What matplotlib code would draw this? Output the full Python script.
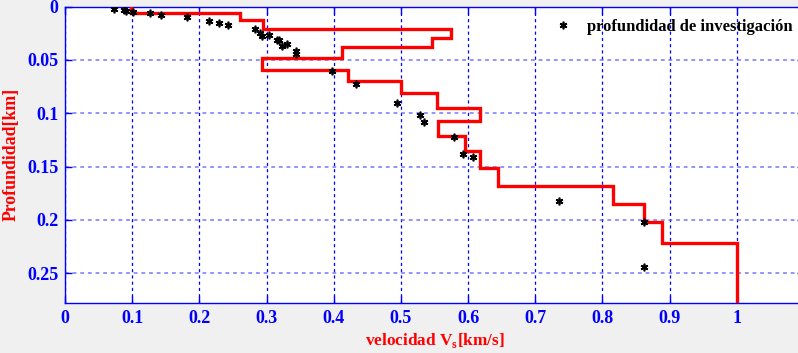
import numpy as np
import matplotlib
matplotlib.use('Agg')
import matplotlib.pyplot as plt

# velocity profile (layers): top depth of each layer [km] and Vs [km/s]
layer_top = [0.0, 0.006, 0.0126, 0.021, 0.0294, 0.0379, 0.0482, 0.0594, 0.0697,
             0.0814, 0.095, 0.1077, 0.1217, 0.1358, 0.1513, 0.1681, 0.185, 0.2019, 0.2216]
layer_bottom = 0.278
layer_vs = [0.098, 0.261, 0.295, 0.575, 0.546, 0.412, 0.293, 0.421, 0.500,
            0.554, 0.618, 0.555, 0.596, 0.618, 0.645, 0.816, 0.862, 0.889, 1.0]

# investigation depth points
pt_vs = [0.0733, 0.0877, 0.0914, 0.1007, 0.1264, 0.1423, 0.182, 0.2147, 0.2296, 0.243,
         0.2828, 0.2902, 0.2936, 0.3036, 0.3155, 0.3192, 0.3225, 0.33, 0.3434, 0.3434,
         0.3979, 0.4331, 0.4949, 0.5284, 0.5348, 0.5791, 0.592, 0.6069, 0.7359, 0.8619, 0.8619]
pt_depth = [0.0023, 0.0032, 0.0041, 0.0053, 0.0057, 0.0076, 0.0097, 0.0132, 0.0151, 0.0172,
            0.0213, 0.025, 0.0274, 0.0271, 0.0313, 0.0313, 0.0372, 0.0353, 0.0416, 0.0444,
            0.0601, 0.0728, 0.0903, 0.1016, 0.1079, 0.1222, 0.1384, 0.141, 0.1819, 0.2016, 0.2447]

xticks = [0, 0.1, 0.2, 0.3, 0.4, 0.5, 0.6, 0.7, 0.8, 0.9, 1]
xtick_labels = ['0', '0.1', '0.2', '0.3', '0.4', '0.5', '0.6', '0.7', '0.8', '0.9', '1']
yticks = [0, 0.05, 0.1, 0.15, 0.2, 0.25]
ytick_labels = ['0', '0.05', '0.1', '0.15', '0.2', '0.25']

plt.rcParams['font.family'] = ['Liberation Serif', 'DejaVu Serif']
plt.rcParams['font.weight'] = 'bold'
plt.rcParams['mathtext.fontset'] = 'custom'
plt.rcParams['mathtext.rm'] = 'Liberation Serif:bold'

W, H = 798, 353
fig = plt.figure(figsize=(W / 100, H / 100), dpi=100, facecolor='#f0f0f0')
ax = fig.add_axes([65.1 / W, (H - 303) / H, 738.8 / W, (303 - 6.6) / H])
ax.set_facecolor('white')

# build stair path
edges = np.array(layer_top + [layer_bottom])
vs = np.array(layer_vs)
xs = np.repeat(vs, 2)
ys = np.column_stack([edges[:-1], edges[1:]]).ravel()
ax.plot(xs, ys, color='#ff0000', lw=2.4, solid_joinstyle='miter', zorder=3)

ax.plot(pt_vs, pt_depth, linestyle='none', marker=(6, 2, 0), color='black',
        markersize=5.5, mew=1.2, label='profundidad de investigación', zorder=4)

ax.set_xlim(0, 1.1)
ax.set_ylim(layer_bottom, 0)
ax.set_xticks(xticks)
ax.set_xticklabels(xtick_labels)
ax.set_yticks(yticks)
ax.set_yticklabels(ytick_labels)

ax.tick_params(direction='in', length=5, width=1, colors='blue', labelsize=13,
               top=True, right=True, pad=5)
for lab in ax.get_xticklabels() + ax.get_yticklabels():
    lab.set_fontweight('bold')
for sp in ax.spines.values():
    sp.set_color('blue')
    sp.set_linewidth(1)

ax.xaxis.grid(True, color='#0000ff', linestyle=(0, (2.5, 2.5)), lw=0.9)
ax.yaxis.grid(True, color='#5555ff', linestyle=(0, (2.5, 2.5)), lw=1.1, alpha=0.8)
ax.set_axisbelow(True)

ax.set_xlabel(r'velocidad V$_\mathregular{s}$[km/s]', color='red', fontsize=12.4,
              fontweight='bold', labelpad=3)
ax.set_ylabel('Profundidad[km]', color='red', fontsize=12.8, fontweight='bold', labelpad=5)

leg = fig.legend(loc='center left', bbox_to_anchor=(545 / W, 1 - 27 / H),
                 frameon=False, handlelength=1.2, handletextpad=0.8,
                 borderpad=0, prop={'family': 'Liberation Serif', 'weight': 'bold', 'size': 12})

fig.savefig('out.png', dpi=100, facecolor=fig.get_facecolor())
